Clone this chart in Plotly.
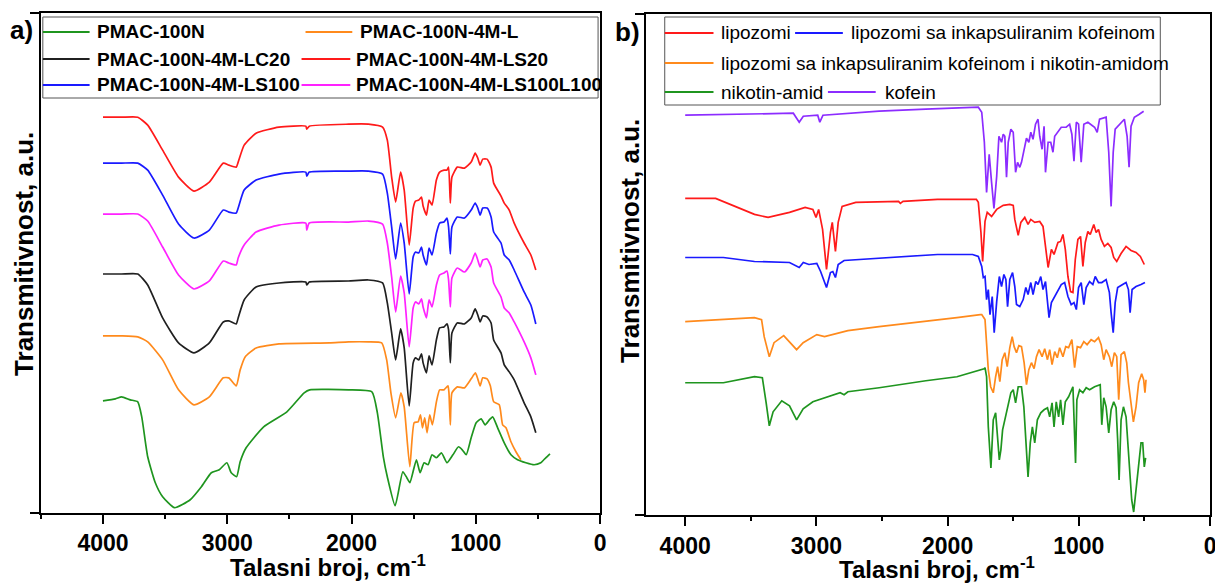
import plotly.graph_objects as go

# the page body keeps its default 8px margin, so the figure is drawn 8px in
PAGE_W, PAGE_H, OFFSET = 1223, 586, 8
W, H = PAGE_W - OFFSET, PAGE_H - OFFSET
FONT = "Liberation Sans, Arial, sans-serif"

# ---------------- panel a) : wavenumbers (cm-1) and transmittance (a.u.) ----------------
WN_A = [4000, 3850, 3720, 3640, 3520, 3392, 3268, 3144, 3032, 2987, 2928, 2912, 2864, 2768, 2584,
        2368, 2360, 2340, 2024, 1864, 1750, 1712, 1677, 1645, 1605, 1576, 1536, 1504, 1485, 1459,
        1437, 1424, 1397, 1376, 1352, 1317, 1291, 1256, 1232, 1219, 1205, 1192, 1149, 1091, 1037,
        1005, 984, 965, 944, 909, 877, 856, 797, 771, 731, 691, 611, 557, 517]

LS20 = [396, 396, 396, 388, 363, 336, 322, 331, 350, 348, 346, 351, 368, 380, 386,
        387, 384, 387, 389, 389, 386, 373, 336, 311, 341, 323, 268, 305, 312, 313,
        316, 307, 298, 313, 308, 333, 341, 343, 343, 346, 310, 336, 346, 345, 351,
        360, 355, 348, 354, 354, 346, 330, 317, 310, 303, 290, 270, 258, 243]

LS100 = [350, 350, 350, 343, 318, 289, 275, 283, 303, 301, 300, 305, 323, 333, 339,
         341, 337, 341, 342, 342, 339, 320, 286, 254, 290, 270, 219, 256, 261, 260,
         266, 258, 248, 265, 258, 280, 290, 291, 295, 286, 259, 286, 296, 295, 303,
         310, 305, 298, 305, 305, 296, 281, 270, 258, 253, 243, 221, 208, 189]

LS100L100 = [299, 299, 299, 292, 266, 238, 224, 232, 252, 250, 248, 255, 268, 281, 288,
             290, 283, 290, 291, 292, 289, 270, 236, 201, 237, 220, 166, 205, 211, 209,
             214, 206, 195, 213, 206, 228, 238, 240, 242, 233, 206, 235, 245, 241, 250,
             260, 253, 246, 253, 254, 246, 230, 216, 205, 200, 191, 171, 155, 138]

LC20 = [239, 239, 239, 228, 195, 170, 160, 170, 191, 192, 189, 195, 213, 226, 230,
        231, 228, 231, 232, 233, 230, 210, 180, 153, 184, 165, 107, 150, 155, 153,
        159, 150, 140, 157, 148, 173, 185, 186, 189, 183, 150, 180, 190, 189, 195,
        204, 198, 191, 197, 196, 190, 173, 160, 148, 141, 133, 110, 96, 80]

WN_L = [4000, 3850, 3720, 3640, 3520, 3392, 3268, 3144, 3032, 2987, 2928, 2896, 2856, 2768, 2584,
        2178, 2024, 1864, 1757, 1717, 1683, 1645, 1603, 1576, 1531, 1496, 1464, 1445, 1429, 1411,
        1392, 1371, 1349, 1317, 1291, 1256, 1224, 1216, 1205, 1192, 1149, 1091, 1037, 1003, 984,
        965, 944, 909, 883, 856, 811, 784, 757, 717, 677, 637]
L4M = [177, 177, 176, 171, 153, 123, 108, 116, 135, 135, 127, 143, 156, 165, 169,
       170, 171, 171, 170, 153, 120, 95, 120, 106, 46, 90, 91, 98, 85, 95,
       80, 98, 88, 111, 123, 123, 127, 120, 88, 120, 126, 125, 134, 140, 134,
       127, 135, 134, 127, 111, 108, 88, 85, 71, 61, 53]

WN_N = [4000, 3900, 3850, 3780, 3720, 3688, 3640, 3579, 3520, 3424, 3298, 3208, 3128, 3064, 3003,
        2968, 2925, 2896, 2848, 2707, 2520, 2381, 2336, 2024, 1836, 1792, 1744, 1712, 1649, 1587,
        1555, 1530, 1478, 1448, 1416, 1384, 1352, 1317, 1277, 1232, 1184, 1139, 1109, 1077, 1037,
        997, 957, 925, 891, 864, 824, 771, 717, 664, 597, 531, 477, 437, 403]
N100 = [112, 114, 116, 113, 111, 96, 56, 30, 16, 5, 13, 26, 40, 43, 50,
        40, 36, 51, 65, 86, 101, 120, 123, 123, 121, 100, 56, 36, 7, 41,
        35, 30, 53, 40, 50, 48, 58, 55, 60, 50, 58, 66, 63, 58, 75,
        90, 94, 88, 93, 96, 85, 70, 58, 53, 50, 48, 50, 55, 59]

# ---------------- panel b) ----------------
WN_KOF = [4000, 3600, 3176, 3131, 3100, 2990, 2974, 2950, 2522, 2166, 1796, 1766, 1740, 1720, 1703,
          1683, 1665, 1647, 1626, 1609, 1589, 1576, 1564, 1551, 1538, 1518, 1500, 1482, 1467, 1450,
          1437, 1419, 1399, 1381, 1366, 1349, 1330, 1311, 1298, 1280, 1265, 1254, 1234, 1214, 1197,
          1184, 1159, 1134, 1096, 1070, 1053, 1037, 1019, 1002, 982, 962, 931, 880, 860, 842,
          792, 772, 754, 738, 723, 704, 678, 653, 632, 617, 602, 577, 539, 506]
KOF = [399, 400, 401, 392, 398, 399, 392, 399, 403, 405, 407, 407, 402, 372, 322,
       360, 332, 306, 338, 378, 372, 380, 378, 337, 372, 385, 382, 342, 352, 347,
       352, 362, 376, 372, 382, 375, 390, 395, 378, 365, 388, 342, 372, 372, 362,
       378, 383, 387, 387, 390, 380, 353, 392, 390, 352, 390, 392, 387, 382, 395,
       397, 362, 308, 362, 385, 388, 392, 395, 378, 347, 388, 397, 400, 403]

WN_LIP = [4000, 3768, 3620, 3472, 3368, 3205, 3086, 3027, 3003, 2983, 2953, 2923, 2893, 2879, 2855,
          2834, 2804, 2700, 2374, 2360, 2340, 2077, 1781, 1766, 1746, 1733, 1715, 1698, 1665, 1626,
          1576, 1526, 1500, 1488, 1462, 1442, 1412, 1387, 1366, 1336, 1298, 1273, 1254, 1234, 1209,
          1189, 1159, 1139, 1121, 1103, 1083, 1063, 1045, 1027, 1007, 987, 969, 951, 931, 913,
          886, 868, 850, 830, 805, 779, 754, 734, 711, 678, 640, 602, 564, 531, 501]
LIP = [316, 316, 308, 300, 297, 302, 307, 305, 297, 305, 285, 245, 282, 292, 263,
       292, 308, 312, 313, 311, 313, 315, 315, 312, 282, 253, 293, 302, 298, 305,
       309, 310, 309, 295, 279, 292, 297, 290, 295, 292, 293, 288, 268, 247, 265,
       260, 272, 273, 280, 265, 238, 223, 222, 255, 275, 278, 248, 272, 283, 280,
       290, 282, 285, 275, 268, 271, 267, 257, 253, 261, 268, 264, 262, 258, 250]

WN_KAP = [4000, 3709, 3472, 3205, 3131, 3100, 3057, 2997, 2968, 2938, 2923, 2893, 2875, 2855, 2834,
          2789, 2522, 2077, 1810, 1766, 1740, 1728, 1715, 1703, 1690, 1677, 1660, 1645, 1626, 1606,
          1589, 1571, 1556, 1543, 1526, 1505, 1488, 1475, 1450, 1424, 1404, 1387, 1366, 1349, 1328,
          1311, 1290, 1273, 1254, 1239, 1227, 1209, 1184, 1159, 1134, 1108, 1083, 1058, 1037, 1019,
          1002, 982, 962, 944, 918, 893, 875, 850, 825, 792, 767, 754, 738, 723, 704,
          666, 640, 622, 609, 594, 564, 526, 496]
KAP = [257, 257, 253, 252, 247, 252, 250, 251, 243, 233, 227, 242, 243, 237, 250,
       254, 256, 260, 260, 258, 248, 237, 238, 215, 225, 200, 218, 182, 213, 238,
       228, 240, 235, 208, 235, 242, 228, 210, 208, 215, 227, 220, 232, 220, 233,
       230, 238, 225, 233, 215, 197, 212, 218, 225, 230, 232, 218, 210, 212, 205,
       227, 232, 210, 227, 233, 230, 238, 232, 232, 235, 222, 202, 182, 212, 227,
       230, 232, 225, 202, 225, 228, 230, 232]

WN_KN = [4000, 3709, 3472, 3418, 3398, 3359, 3323, 3249, 3190, 3151, 3101, 2997, 2938, 2760, 2522,
         2166, 1929, 1751, 1740, 1715, 1703, 1690, 1672, 1652, 1634, 1619, 1602, 1584, 1564, 1546,
         1526, 1508, 1493, 1475, 1457, 1437, 1417, 1399, 1381, 1361, 1341, 1323, 1303, 1280, 1260,
         1239, 1222, 1204, 1184, 1164, 1146, 1121, 1100, 1078, 1053, 1032, 1012, 987, 962, 937,
         906, 880, 850, 830, 810, 792, 767, 749, 729, 711, 696, 678, 653, 635, 622,
         602, 584, 564, 544, 521, 506, 496, 488]
KN = [193, 195, 197, 195, 178, 158, 172, 179, 170, 165, 172, 180, 178, 184, 188,
      193, 197, 200, 200, 195, 175, 145, 128, 122, 138, 148, 133, 155, 162, 148,
      167, 178, 168, 162, 169, 168, 152, 130, 145, 152, 146, 158, 165, 158, 166,
      155, 165, 150, 163, 157, 167, 158, 168, 167, 175, 147, 168, 167, 173, 170,
      175, 173, 177, 170, 155, 165, 158, 148, 162, 158, 115, 160, 163, 152, 132,
      108, 93, 108, 132, 141, 135, 122, 135]

WN_NA = [4000, 3709, 3472, 3412, 3383, 3359, 3330, 3264, 3205, 3151, 3101, 3027, 2819, 2789, 2760,
         2522, 2166, 1929, 1722, 1715, 1703, 1690, 1670, 1652, 1634, 1619, 1606, 1594, 1581, 1564,
         1543, 1518, 1500, 1482, 1462, 1437, 1419, 1404, 1387, 1370, 1354, 1336, 1316, 1290, 1265,
         1239, 1222, 1204, 1189, 1172, 1154, 1139, 1121, 1103, 1078, 1045, 1032, 1025, 1015, 994,
         969, 944, 918, 880, 837, 825, 810, 792, 772, 754, 734, 716, 704, 693, 678,
         660, 640, 627, 614, 597, 582, 564, 546, 526, 513, 501, 491]
NA = [132, 132, 138, 137, 112, 89, 103, 114, 109, 95, 106, 113, 122, 120, 123,
      127, 134, 138, 146, 147, 138, 88, 47, 95, 102, 75, 55, 65, 85, 95,
      108, 122, 125, 112, 128, 128, 108, 78, 38, 72, 88, 72, 95, 102, 105,
      107, 98, 112, 88, 113, 98, 115, 90, 113, 118, 128, 82, 52, 115, 125,
      122, 127, 125, 128, 130, 90, 117, 108, 82, 105, 113, 107, 75, 35, 95,
      108, 98, 72, 48, 15, 3, 25, 52, 72, 72, 48, 57]

GREEN, ORANGE, RED, BLUE = "#1f951f", "#ff8a1c", "#ff1a1a", "#1a1aff"
MAGENTA, PURPLE = "#ff22ff", "#8c2cff"

SERIES_A = [
    ("PMAC-100N", WN_N, N100, GREEN),
    ("PMAC-100N-4M-L", WN_L, L4M, ORANGE),
    ("PMAC-100N-4M-LC20", WN_A, LC20, "#202020"),
    ("PMAC-100N-4M-LS20", WN_A, LS20, RED),
    ("PMAC-100N-4M-LS100", WN_A, LS100, BLUE),
    ("PMAC-100N-4M-LS100L100", WN_A, LS100L100, MAGENTA),
]
SERIES_B = [
    ("lipozomi", WN_LIP, LIP, RED),
    ("lipozomi sa inkapsuliranim kofeinom", WN_KAP, KAP, BLUE),
    ("lipozomi sa inkapsuliranim kofeinom i nikotin-amidom", WN_KN, KN, ORANGE),
    ("nikotin-amid", WN_NA, NA, GREEN),
    ("kofein", WN_KOF, KOF, PURPLE),
]


# page pixel -> paper fraction
def px(x):
    return (x - OFFSET) / W


def py(y):
    return 1 - (y - OFFSET) / H


fig = go.Figure()
for name, wn, t, color in SERIES_A:
    fig.add_trace(go.Scatter(x=wn, y=t, name=name, mode="lines", xaxis="x", yaxis="y",
                             line=dict(color=color, width=1.7, shape="spline", smoothing=0.5),
                             showlegend=False))
for name, wn, t, color in SERIES_B:
    fig.add_trace(go.Scatter(x=wn, y=t, name=name, mode="lines", xaxis="x2", yaxis="y2",
                             line=dict(color=color, width=1.7), showlegend=False))

xaxis_style = dict(
    showgrid=False, zeroline=False, showline=True, linecolor="black", linewidth=2, mirror=True,
    ticks="outside", ticklen=9, tickwidth=2, tickcolor="black", tickmode="linear", tick0=0, dtick=1000,
    tickfont=dict(family=FONT, size=23, color="black", weight="bold"),
    minor=dict(tick0=0, dtick=500, ticks="outside", ticklen=4, tickwidth=2, tickcolor="black"),
)
yaxis_style = dict(
    range=[0, 500], showgrid=False, zeroline=False, showline=True, linecolor="black", linewidth=2,
    mirror=True, ticks="outside", ticklen=9, tickwidth=2, tickcolor="black",
    tickmode="array", tickvals=[0, 500], showticklabels=False,
)

fig.update_layout(
    width=W, height=H,
    margin=dict(l=0, r=0, t=0, b=0),
    paper_bgcolor="white", plot_bgcolor="white",
    xaxis=dict(xaxis_style, range=[4500, 0], domain=[px(41), px(603)], anchor="y"),
    yaxis=dict(yaxis_style, domain=[py(512.7), py(13.3)], anchor="x"),
    xaxis2=dict(xaxis_style, range=[4300, 0], domain=[px(649), px(1216)], anchor="y2"),
    yaxis2=dict(yaxis_style, domain=[py(515), py(14)], anchor="x2"),
)

# axis titles and panel labels
bold = dict(family=FONT, color="black", weight="bold")
texts = [
    ("a)", 22, 30, 0, 26),
    ("b)", 631, 32, 0, 26),
    ("Transmitivnost, a.u.", 24, 254, -90, 26),
    ("Transmitivnost, a.u.", 633, 241, -90, 26),
    ("Talasni broj, cm<sup>-1</sup>", 330, 566, 0, 24),
    ("Talasni broj, cm<sup>-1</sup>", 942, 568, 0, 24),
]
for text, x, y, angle, size in texts:
    fig.add_annotation(text=text, x=px(x), y=py(y), xref="paper", yref="paper",
                       xanchor="center", yanchor="middle", textangle=angle,
                       showarrow=False, font=dict(bold, size=size))

# legends drawn as boxes with line samples
LEGEND_A = [
    ("PMAC-100N", GREEN, 43, 90, 95, 32),
    ("PMAC-100N-4M-L", ORANGE, 307, 354, 360, 32),
    ("PMAC-100N-4M-LC20", "#202020", 43, 90, 95, 59),
    ("PMAC-100N-4M-LS20", RED, 303, 352, 356, 59),
    ("PMAC-100N-4M-LS100", BLUE, 43, 90, 95, 85),
    ("PMAC-100N-4M-LS100L100", MAGENTA, 303, 352, 356, 85),
]
LEGEND_B = [
    ("lipozomi", RED, 668, 717, 723, 33),
    ("lipozomi sa inkapsuliranim kofeinom", BLUE, 799, 847, 853, 33),
    ("lipozomi sa inkapsuliranim kofeinom i nikotin-amidom", ORANGE, 668, 717, 723, 63),
    ("nikotin-amid", GREEN, 668, 717, 723, 92),
    ("kofein", PURPLE, 832, 880, 887, 92),
]

for x0, y0, x1, y1 in [(43, 17, 601, 98), (668, 17, 1166, 105)]:
    fig.add_shape(type="rect", xref="paper", yref="paper", x0=px(x0), x1=px(x1), y0=py(y0), y1=py(y1),
                  line=dict(color="#555555", width=1), fillcolor="rgba(0,0,0,0)")

for entries, weight in [(LEGEND_A, "bold"), (LEGEND_B, "normal")]:
    for label, color, lx0, lx1, tx, y in entries:
        fig.add_shape(type="line", xref="paper", yref="paper", x0=px(lx0), x1=px(lx1),
                      y0=py(y), y1=py(y), line=dict(color=color, width=2))
        fig.add_annotation(text=label, x=px(tx), y=py(y), xref="paper", yref="paper",
                           xanchor="left", yanchor="middle", showarrow=False,
                           font=dict(family=FONT, size=19, color="black", weight=weight))

fig.write_html("out.html")
